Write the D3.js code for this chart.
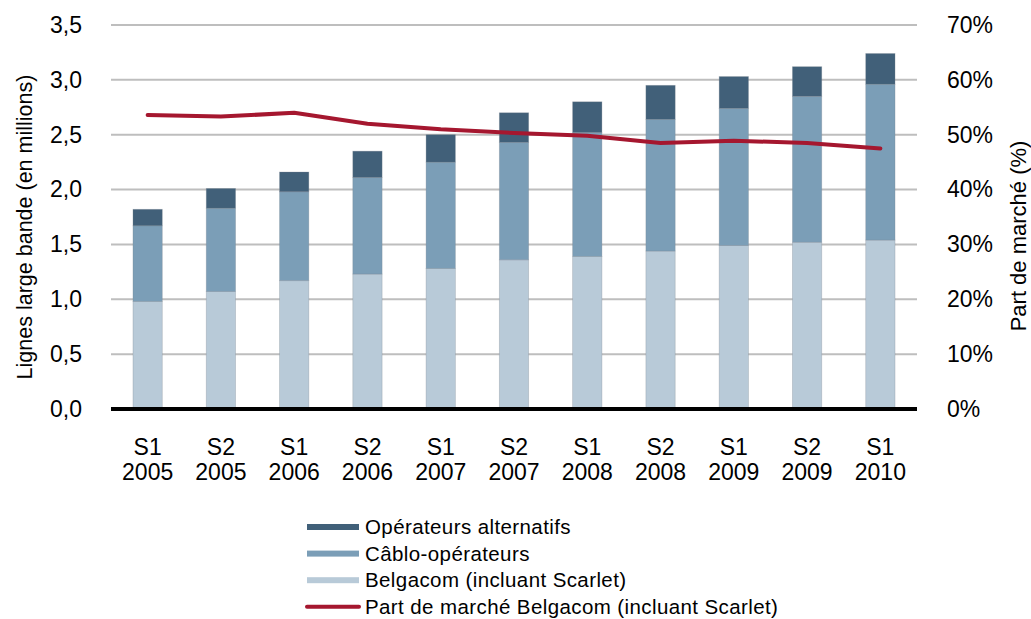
<!DOCTYPE html>
<html>
<head>
<meta charset="utf-8">
<script src="https://cdn.jsdelivr.net/npm/d3@7"></script>
<style>
  html, body { margin: 0; padding: 0; background: #fff; }
  svg { display: block; font-family: "Liberation Sans", Arial, sans-serif; }
</style>
</head>
<body>
<svg id="chart" width="1031" height="619"></svg>
<script>
// ---- Data ----
const semesters = ["S1", "S2", "S1", "S2", "S1", "S2", "S1", "S2", "S1", "S2", "S1"];
const years = ["2005", "2005", "2006", "2006", "2007", "2007", "2008", "2008", "2009", "2009", "2010"];
const belgacom = [0.98, 1.07, 1.17, 1.23, 1.28, 1.36, 1.39, 1.44, 1.49, 1.52, 1.54];
const cablo = [0.69, 0.76, 0.81, 0.88, 0.97, 1.07, 1.13, 1.20, 1.25, 1.33, 1.42];
const alternatifs = [0.15, 0.18, 0.18, 0.24, 0.25, 0.27, 0.28, 0.31, 0.29, 0.27, 0.28];
const partMarche = [53.6, 53.3, 54.0, 52.0, 51.0, 50.3, 49.8, 48.5, 48.9, 48.5, 47.5];
const leftTicks = [0, 0.5, 1.0, 1.5, 2.0, 2.5, 3.0, 3.5];
const rightTicks = [0, 10, 20, 30, 40, 50, 60, 70];
const seriesNames = ["Opérateurs alternatifs", "Câblo-opérateurs", "Belgacom (incluant Scarlet)"];
const lineName = "Part de marché Belgacom (incluant Scarlet)";
const leftTitle = "Lignes large bande (en millions)";
const rightTitle = "Part de marché (%)";

(function () {
// ---- Styles ----
const colors = { belgacom: "#B8CAD8", cablo: "#7B9EB7", alternatifs: "#416079", line: "#A5172F" };

const svg = d3.select("#chart");
const pLeft = 111, pRight = 917, pTop = 25, pBottom = 409;

const categories = semesters.map((s, i) => s + " " + years[i]);
const x = d3.scaleBand().domain(categories).range([pLeft, pRight]).paddingInner(0.6).paddingOuter(0.3);
const y = d3.scaleLinear().domain([0, 3.5]).range([pBottom, pTop]);
const y2 = d3.scaleLinear().domain([0, 70]).range([pBottom, pTop]);

// Gridlines
svg.append("g").selectAll("line").data(leftTicks.filter(d => d > 0)).join("line")
  .attr("x1", pLeft).attr("x2", pRight)
  .attr("y1", d => y(d)).attr("y2", d => y(d))
  .attr("stroke", "#BEBEBE").attr("stroke-width", 2);

// Stack
const rows = categories.map((c, i) => ({ cat: c, belgacom: belgacom[i], cablo: cablo[i], alternatifs: alternatifs[i] }));
const keys = ["belgacom", "cablo", "alternatifs"];
const stacked = d3.stack().keys(keys)(rows);

svg.append("g").selectAll("g").data(stacked).join("g")
  .attr("fill", d => colors[d.key])
  .selectAll("rect").data(d => d).join("rect")
  .attr("x", d => x(d.data.cat))
  .attr("width", x.bandwidth())
  .attr("y", d => y(d[1]))
  .attr("height", d => y(d[0]) - y(d[1]))
  .attr("stroke", "rgba(120,130,140,0.35)").attr("stroke-width", 0.8);

// Baseline
svg.append("line").attr("x1", pLeft).attr("x2", pRight)
  .attr("y1", y(0)).attr("y2", y(0))
  .attr("stroke", "#000").attr("stroke-width", 4);

// Line
const line = d3.line().x((d, i) => x(categories[i]) + x.bandwidth() / 2).y(d => y2(d));
svg.append("path").datum(partMarche).attr("d", line)
  .attr("fill", "none").attr("stroke", colors.line).attr("stroke-width", 4)
  .attr("stroke-linejoin", "round").attr("stroke-linecap", "round");

// Left axis
const fmtL = d => d3.format(".1f")(d).replace(".", ",");
svg.append("g").attr("transform", `translate(${pLeft - 29},0)`)
  .call(d3.axisLeft(y).tickValues(leftTicks).tickFormat(fmtL).tickSize(0).tickPadding(0))
  .call(g => g.select(".domain").remove())
  .selectAll("text").attr("font-size", 23).attr("fill", "#000").attr("font-family", "Liberation Sans, Arial, sans-serif");

// Right axis
svg.append("g").attr("transform", `translate(${pRight + 30},0)`)
  .call(d3.axisRight(y2).tickValues(rightTicks).tickFormat(d => d + "%").tickSize(0).tickPadding(0))
  .call(g => g.select(".domain").remove())
  .selectAll("text").attr("font-size", 23).attr("fill", "#000").attr("font-family", "Liberation Sans, Arial, sans-serif");

// X axis labels
const xl = svg.append("g").selectAll("text").data(categories).join("text")
  .attr("text-anchor", "middle").attr("font-size", 23).attr("fill", "#000")
  .attr("x", d => x(d) + x.bandwidth() / 2);
xl.append("tspan").attr("x", d => x(d) + x.bandwidth() / 2).attr("y", 455).text((d, i) => semesters[i]);
xl.append("tspan").attr("x", d => x(d) + x.bandwidth() / 2).attr("y", 480).text((d, i) => years[i]);

// Axis titles
svg.append("text").attr("transform", "translate(32,227) rotate(-90)")
  .attr("text-anchor", "middle").attr("font-size", 21.5).attr("fill", "#000").text(leftTitle);
svg.append("text").attr("transform", "translate(1026,236) rotate(-90)")
  .attr("text-anchor", "middle").attr("font-size", 22).attr("fill", "#000").text(rightTitle);

// Legend
const legendItems = [
  { name: seriesNames[0], color: colors.alternatifs, type: "rect" },
  { name: seriesNames[1], color: colors.cablo, type: "rect" },
  { name: seriesNames[2], color: colors.belgacom, type: "rect" },
  { name: lineName, color: colors.line, type: "line" }
];
const lg = svg.append("g").selectAll("g").data(legendItems).join("g")
  .attr("transform", (d, i) => `translate(307,${527 + i * 26.6})`);
lg.filter(d => d.type === "rect").append("rect")
  .attr("x", 0).attr("y", -3).attr("width", 52).attr("height", 6).attr("fill", d => d.color);
lg.filter(d => d.type === "line").append("line")
  .attr("x1", 0).attr("x2", 52).attr("y1", 0).attr("y2", 0)
  .attr("stroke", d => d.color).attr("stroke-width", 4).attr("stroke-linecap", "round");
lg.append("text").attr("x", 58).attr("y", 7).attr("font-size", 20.5).attr("letter-spacing", 0.4)
  .attr("fill", "#000").text(d => d.name);
})();
</script>
</body>
</html>
